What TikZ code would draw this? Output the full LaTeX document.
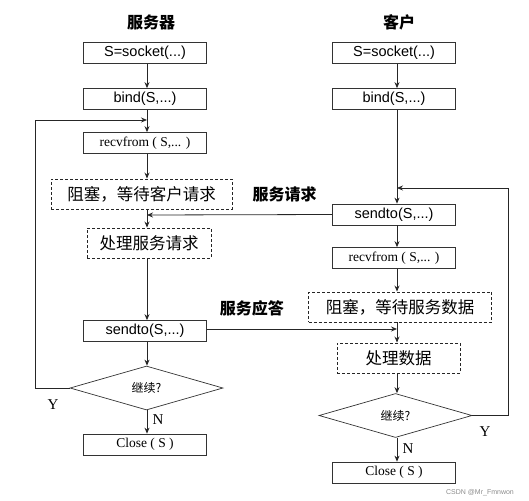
\documentclass[tikz,border=0pt]{standalone}
\usepackage{fontspec}
\setmainfont{Liberation Serif}
\newfontfamily\cjk{Noto Sans CJK SC}
\newfontfamily\arialf{Liberation Sans}
\usetikzlibrary{arrows.meta,shapes.geometric}
\begin{document}
\begin{tikzpicture}[x=1pt,y=-1pt,
  box/.style={draw=black!80,line width=0.7pt,fill=white,minimum width=123pt,minimum height=21pt,inner sep=0pt},
  sbox/.style={box,font=\arialf\fontsize{14.5}{14.5}\selectfont},
  rbox/.style={box,font=\fontsize{13.5}{13.5}\selectfont},
  dbox/.style={draw=black!85,dashed,dash pattern=on 3pt off 2pt,line width=0.9pt,minimum height=30pt,inner sep=0pt,font=\cjk\fontsize{16.5}{16.5}\selectfont},
  dia/.style={draw=black!80,line width=0.7pt,diamond,aspect=3.5,minimum width=153pt,minimum height=44pt,inner sep=0pt,font=\cjk\fontsize{12}{12}\selectfont},
  ttl/.style={font=\cjk\bfseries\fontsize{16}{16}\selectfont},
  lbl/.style={font=\cjk\bfseries\fontsize{16}{16}\selectfont},
  yn/.style={font=\fontsize{15}{15}\selectfont},
  arr/.style={draw=black!85,line width=0.8pt,-{Stealth[length=6pt,width=5pt]}},
  ln/.style={draw=black!85,line width=0.8pt}]
\useasboundingbox (0,0) rectangle (529,500);
% server
\node[ttl] (t1) at (151,22) {服务器};
\node[sbox] (s1) at (145,53) {S=socket(...)};
\node[sbox] (b1) at (145,99) {bind(S,...)};
\node[rbox] (r1) at (145,143) {recvfrom ( S,... )};
\node[dbox,minimum width=181pt] (k1) at (141.5,194) {阻塞，等待客户请求};
\node[dbox,minimum width=124pt] (p1) at (149,243) {处理服务请求};
\node[sbox] (d1) at (145,331) {sendto(S,...)};
\node[dia] (c1) at (146.5,388) {继续?};
\node[rbox] (e1) at (145,444.5) {Close ( S )};
% client
\node[ttl] (t2) at (399,22) {客户};
\node[sbox] (s2) at (394,53) {S=socket(...)};
\node[sbox] (b2) at (394,99) {bind(S,...)};
\node[sbox] (d2) at (394,214.5) {sendto(S,...)};
\node[rbox] (r2) at (394,258) {recvfrom ( S,... )};
\node[dbox,minimum width=183pt] (k2) at (400,307) {阻塞，等待服务数据};
\node[dbox,minimum width=123pt] (p2) at (398.5,358) {处理数据};
\node[dia] (c2) at (395.5,415.5) {继续?};
\node[rbox] (e2) at (394,472.5) {Close ( S )};
% coordinates
\coordinate (j1) at (147,120);
\coordinate (j2) at (147,215);
\coordinate (j3) at (397,188);
\coordinate (j4) at (397,329);
\coordinate (L1) at (35,388);
\coordinate (L2) at (508,415.5);
% server arrows
\draw[arr] (s1.south -| 147,0) -- (b1.north -| 147,0);
\draw[arr] (b1.south -| 147,0) -- (r1.north -| 147,0);
\draw[arr] (r1.south -| 147,0) -- (k1.north -| 147,0);
\draw[arr] (k1.south -| 147,0) -- (p1.north -| 147,0);
\draw[arr] (p1.south -| 147,0) -- (d1.north -| 147,0);
\draw[arr] (d1.south -| 147,0) -- (c1.north -| 147,0);
\draw[arr] (c1.south -| 147,0) -- node[yn,right,pos=0.4,xshift=2pt] {N} (e1.north -| 147,0);
\draw[arr] (c1.west) -- (L1) -- (L1 |- j1) -- (j1);
\node[yn] (y1) at (53,405) {Y};
% client arrows
\draw[arr] (s2.south -| 397,0) -- (b2.north -| 397,0);
\draw[arr] (b2.south -| 397,0) -- (d2.north -| 397,0);
\draw[arr] (d2.south -| 397,0) -- (r2.north -| 397,0);
\draw[arr] (r2.south -| 397,0) -- (k2.north -| 397,0);
\draw[arr] (k2.south -| 397,0) -- (p2.north -| 397,0);
\draw[arr] (p2.south -| 397,0) -- (c2.north -| 397,0);
\draw[arr] (c2.south -| 397,0) -- node[yn,right,pos=0.45,xshift=2pt] {N} (e2.north -| 397,0);
\draw[arr] (c2.east) -- (L2) -- (L2 |- j3) -- (j3);
\node[yn] (y2) at (485,432) {Y};
% messages
\draw[arr] (d2.west) -- node[lbl,above,yshift=9pt,xshift=45pt] {服务请求} (j2);
\draw[arr] (d1.east |- j4) -- node[lbl,above,yshift=9pt,xshift=-50pt] {服务应答} (j4);
\node[font=\arialf\fontsize{7}{7}\selectfont,text=black!45] (wm) at (480,493) {CSDN @Mr\_Fmnwon};
\end{tikzpicture}
\end{document}
